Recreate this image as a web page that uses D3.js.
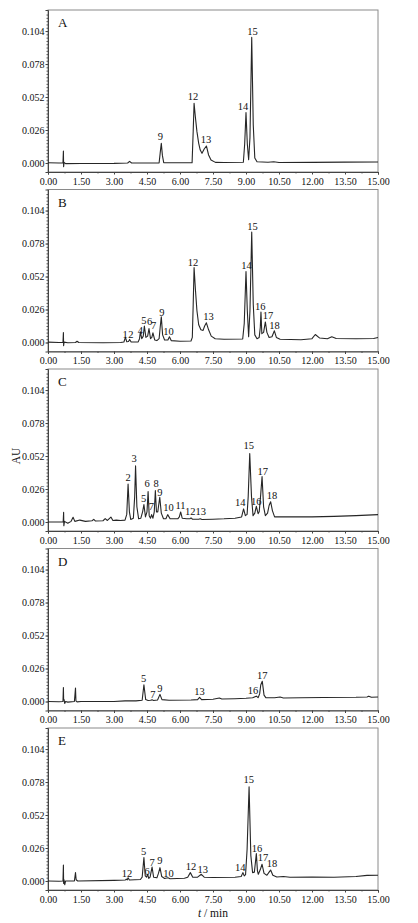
<!DOCTYPE html>
<html>
<head>
<meta charset="utf-8">
<script src="https://cdn.jsdelivr.net/npm/d3@7"></script>
<style>
  body { margin: 0; background: #fff; }
  svg { display: block; }
  text { font-family: "Liberation Serif", "DejaVu Serif", serif; fill: #111; }
</style>
</head>
<body>
<svg id="chart" width="418" height="923"></svg>
<script>
// panel names, in order top to bottom
var panels = ["A", "B", "C", "D", "E"];

var xTicks = [0, 1.5, 3, 4.5, 6, 7.5, 9, 10.5, 12, 13.5, 15];
var yTicks = [0, 0.026, 0.052, 0.078, 0.104];

// chromatogram traces: [t (min), AU]
var traceA = [[0,0.0002],[0.5,0.0000],[0.68,0.0000],[0.70,0.0095],[0.71,-0.0030],[0.73,0.0005],[0.8,-0.0005],[1.5,-0.0004],[3.0,-0.0003],[3.62,0.0000],[3.71,0.0013],[3.80,0.0000],
  [5.05,0.0000],[5.10,0.0080],[5.15,0.0155],[5.20,0.0060],[5.26,0.0003],[6.0,0.0002],[6.55,0.0003],[6.60,0.0250],[6.64,0.0470],[6.70,0.0360],[6.77,0.0247],[6.85,0.0155],[6.92,0.0102],[7.00,0.0076],[7.10,0.0110],[7.20,0.0134],[7.30,0.0063],[7.41,0.0024],[7.61,0.0005],
  [8.0,0.0004],[8.88,0.0006],[8.94,0.0150],[9.00,0.0397],[9.06,0.0150],[9.12,0.0025],[9.18,0.0200],[9.26,0.0990],[9.33,0.0300],[9.40,0.0040],[9.50,0.0010],[10.0,0.0006],[10.26,0.0010],[10.5,0.0004],[12,0.0005],[13.5,0.0007],[15,0.0008]];

var traceB = [[0,0.0003],[0.5,0.0000],[0.68,0.0000],[0.70,0.0079],[0.71,-0.0025],[0.73,0.0003],[0.9,-0.0002],[1.25,0.0000],[1.32,0.0010],[1.40,0.0000],[2.5,-0.0002],[3.3,0.0000],
  [3.45,0.0004],[3.52,0.0040],[3.58,0.0006],[3.66,0.0008],[3.71,0.0024],[3.78,0.0004],[4.1,0.0005],[4.16,0.0030],[4.20,0.0084],[4.26,0.0030],[4.33,0.0050],[4.38,0.0130],[4.45,0.0040],[4.53,0.0050],[4.59,0.0110],[4.66,0.0030],[4.72,0.0040],[4.77,0.0076],[4.85,0.0020],[4.95,0.0015],
  [5.05,0.0030],[5.10,0.0120],[5.15,0.0202],[5.21,0.0060],[5.30,0.0020],[5.45,0.0020],[5.52,0.0045],[5.60,0.0015],[6.0,0.0010],[6.50,0.0012],[6.56,0.0040],[6.60,0.0300],[6.64,0.0590],[6.70,0.0420],[6.77,0.0250],[6.85,0.0140],[6.95,0.0100],[7.05,0.0095],[7.12,0.0130],[7.20,0.0155],[7.30,0.0100],[7.42,0.0050],[7.60,0.0030],
  [8.0,0.0025],[8.85,0.0028],[8.92,0.0150],[9.00,0.0560],[9.06,0.0250],[9.12,0.0045],[9.18,0.0250],[9.26,0.0870],[9.33,0.0300],[9.40,0.0060],[9.50,0.0030],[9.60,0.0040],[9.65,0.0120],[9.68,0.0240],[9.72,0.0070],[9.80,0.0080],[9.88,0.0162],[9.95,0.0080],[10.05,0.0040],[10.18,0.0045],[10.29,0.0092],[10.38,0.0040],[10.55,0.0025],
  [11.5,0.0022],[12.0,0.0030],[12.15,0.0063],[12.35,0.0035],[12.7,0.0030],[12.9,0.0045],[13.1,0.0032],[14.0,0.0030],[14.8,0.0032],[15,0.0040]];

var traceC = [[0,0.0000],[0.5,0.0000],[0.69,0.0000],[0.71,0.0076],[0.72,-0.0030],[0.75,0.0005],[0.9,-0.0010],[1.05,0.0005],[1.14,0.0037],[1.22,0.0005],[1.45,0.0015],[1.7,0.0005],[2.0,0.0010],[2.08,0.0021],[2.15,0.0008],[2.5,0.0010],[2.6,0.0026],[2.7,0.0012],[2.86,0.0039],[2.95,0.0012],[3.1,0.0015],[3.3,0.0012],[3.5,0.0015],
  [3.58,0.0060],[3.64,0.0300],[3.70,0.0080],[3.76,0.0020],[3.88,0.0030],[3.94,0.0200],[3.98,0.0442],[4.04,0.0120],[4.12,0.0025],[4.22,0.0030],[4.30,0.0080],[4.36,0.0137],[4.43,0.0040],[4.50,0.0080],[4.55,0.0240],[4.60,0.0050],[4.66,0.0030],[4.71,0.0058],[4.77,0.0030],[4.83,0.0080],[4.88,0.0247],[4.93,0.0080],[4.99,0.0080],[5.08,0.0195],[5.15,0.0070],[5.25,0.0025],
  [5.36,0.0025],[5.44,0.0058],[5.55,0.0025],[5.9,0.0025],[5.97,0.0040],[6.03,0.0079],[6.10,0.0030],[6.3,0.0025],[6.45,0.0025],[6.50,0.0032],[6.57,0.0022],[6.85,0.0022],[6.92,0.0026],[7.0,0.0020],[7.5,0.0022],[8.0,0.0025],[8.5,0.0030],
  [8.80,0.0040],[8.89,0.0103],[8.97,0.0050],[9.05,0.0060],[9.10,0.0200],[9.17,0.0540],[9.25,0.0200],[9.32,0.0050],[9.40,0.0070],[9.47,0.0124],[9.55,0.0065],[9.60,0.0080],[9.67,0.0220],[9.73,0.0358],[9.80,0.0120],[9.88,0.0050],[9.98,0.0070],[10.05,0.0130],[10.12,0.0160],[10.20,0.0090],[10.30,0.0040],
  [10.5,0.0040],[11,0.0040],[12,0.0040],[13,0.0044],[14,0.0050],[15,0.0058]];

var traceD = [[0,0.0000],[0.5,-0.0002],[0.68,0.0000],[0.70,0.0110],[0.71,0.0020],[0.73,0.0015],[0.76,-0.0015],[0.8,0.0000],[0.9,-0.0005],[1.2,0.0000],[1.25,0.0106],[1.27,0.0005],[1.32,-0.0003],[1.5,0.0000],[3.0,0.0000],[3.5,0.0005],[4.0,0.0005],
  [4.28,0.0010],[4.36,0.0132],[4.44,0.0015],[4.55,0.0008],[4.66,0.0010],[4.73,0.0013],[4.80,0.0008],[4.98,0.0012],[5.09,0.0056],[5.18,0.0015],[5.5,0.0010],[6.5,0.0012],[6.8,0.0015],[6.89,0.0032],[6.98,0.0015],[7.5,0.0018],[7.79,0.0028],[7.9,0.0020],
  [8.5,0.0022],[9.0,0.0025],[9.3,0.0030],[9.47,0.0042],[9.55,0.0030],[9.62,0.0060],[9.67,0.0130],[9.74,0.0159],[9.82,0.0050],[9.90,0.0030],[10.3,0.0030],[10.55,0.0035],[10.7,0.0028],[11.5,0.0030],[12.5,0.0032],[14.0,0.0033],[14.5,0.0036],[14.58,0.0042],[14.7,0.0033],[15,0.0035]];

var traceE = [[0,0.0000],[0.5,-0.0002],[0.68,0.0000],[0.70,0.0126],[0.71,-0.0020],[0.73,0.0010],[0.76,-0.0030],[0.8,0.0000],[1.2,0.0000],[1.25,0.0066],[1.28,0.0010],[1.35,0.0000],[3.0,0.0005],
  [3.52,0.0008],[3.56,0.0015],[3.60,0.0008],[3.64,0.0026],[3.70,0.0008],[4.2,0.0012],[4.28,0.0030],[4.36,0.0184],[4.42,0.0040],[4.48,0.0030],[4.53,0.0053],[4.58,0.0020],[4.64,0.0030],[4.73,0.0110],[4.80,0.0030],[4.95,0.0025],[5.02,0.0060],[5.09,0.0105],[5.17,0.0035],[5.30,0.0020],[5.45,0.0026],[5.55,0.0018],
  [6.2,0.0022],[6.35,0.0030],[6.47,0.0066],[6.58,0.0030],[6.8,0.0030],[6.97,0.0053],[7.10,0.0030],[7.5,0.0028],[8.5,0.0030],[8.78,0.0035],[8.86,0.0066],[8.92,0.0040],[8.98,0.0050],[9.05,0.0250],[9.14,0.0742],[9.22,0.0200],[9.30,0.0066],[9.38,0.0070],[9.43,0.0150],[9.47,0.0216],[9.52,0.0080],[9.56,0.0053],[9.65,0.0090],[9.73,0.0132],[9.82,0.0060],[9.95,0.0045],[10.05,0.0070],[10.12,0.0087],[10.22,0.0045],
  [10.4,0.0032],[10.7,0.0035],[11,0.0030],[12,0.0032],[13,0.0030],[14,0.0036],[14.5,0.0044],[15,0.0045]];

// peak labels: [text, t, AU of text baseline]
var labelsA = [["9",5.11,0.0184],["12",6.59,0.0499],["13",7.18,0.0158],["14",8.86,0.0420],["15",9.30,0.1011]];
var labelsB = [["1",3.50,0.0039],["2",3.77,0.0039],["4",4.20,0.0068],["5",4.36,0.0144],["6",4.62,0.0136],["7",4.80,0.0107],["9",5.18,0.0212],["10",5.48,0.0060],["12",6.59,0.0603],["13",7.30,0.0178],["14",9.02,0.0576],["15",9.30,0.0890],["16",9.65,0.0257],["17",10.00,0.0183],["18",10.30,0.0107]];
var labelsC = [["2",3.64,0.0323],["3",3.92,0.0473],["5",4.35,0.0158],["6",4.50,0.0276],["7",4.70,0.0092],["8",4.91,0.0276],["9",5.08,0.0208],["10",5.48,0.0089],["11",6.02,0.0103],["1213",6.70,0.0053],["14",8.74,0.0129],["15",9.12,0.0576],["16",9.47,0.0132],["17",9.76,0.0373],["18",10.18,0.0181]];
var labelsD = [["5",4.35,0.0156],["7",4.77,0.0029],["9",5.09,0.0077],["13",6.89,0.0050],["16",9.32,0.0056],["17",9.74,0.0175]];
var labelsE = [["12",3.59,0.0034],["5",4.35,0.0205],["6",4.50,0.0050],["7",4.73,0.0121],["9",5.09,0.0134],["10",5.48,0.0034],["12",6.50,0.0087],["13",7.03,0.0061],["14",8.74,0.0082],["15",9.12,0.0771],["16",9.50,0.0232],["17",9.77,0.0160],["18",10.18,0.0108]];

var traces = [traceA, traceB, traceC, traceD, traceE];
var labels = [labelsA, labelsB, labelsC, labelsD, labelsE];

var svg = d3.select("#chart");
var margin = { left: 48, top: 10 };
var width = 330, height = 162, step = 179.5;

var x = d3.scaleLinear().domain([0, 15]).range([0, width]);
var y = d3.scaleLinear().domain([-0.0071, 0.1206]).range([height, 0]);

var line = d3.line()
  .x(function (d) { return x(d[0]); })
  .y(function (d) { return y(d[1]); });

var yMinor = d3.range(0, 0.1195, 0.0026);
var xMinor = d3.range(0, 15.01, 0.75);

panels.forEach(function (name, i) {
  var g = svg.append("g")
    .attr("transform", "translate(" + margin.left + "," + (margin.top + i * step) + ")");

  g.append("rect")
    .attr("width", width).attr("height", height)
    .attr("fill", "none").attr("stroke", "#8a8a8a").attr("stroke-width", 1);

  // minor ticks
  g.append("g").call(d3.axisLeft(y).tickValues(yMinor).tickSize(1.5).tickFormat(""))
    .call(function (a) { a.select(".domain").remove(); a.selectAll("line").attr("stroke", "#555"); });
  g.append("g").attr("transform", "translate(0," + height + ")")
    .call(d3.axisBottom(x).tickValues(xMinor).tickSize(1.5).tickFormat(""))
    .call(function (a) { a.select(".domain").remove(); a.selectAll("line").attr("stroke", "#555"); });

  g.append("g")
    .call(d3.axisLeft(y).tickValues(yTicks).tickSize(2.5).tickPadding(1).tickFormat(d3.format(".3f")))
    .call(function (a) {
      a.select(".domain").attr("stroke", "#444");
      a.selectAll("line").attr("stroke", "#444");
      a.selectAll("text").attr("font-size", 10).attr("font-family", "Liberation Serif").attr("fill", "#111");
    });

  g.append("g").attr("transform", "translate(0," + height + ")")
    .call(d3.axisBottom(x).tickValues(xTicks).tickSize(2.5).tickPadding(3).tickFormat(d3.format(".2f")))
    .call(function (a) {
      a.select(".domain").attr("stroke", "#444");
      a.selectAll("line").attr("stroke", "#444");
      a.selectAll("text").attr("font-size", 10).attr("font-family", "Liberation Serif").attr("fill", "#111");
    });

  g.append("path")
    .datum(traces[i])
    .attr("d", line)
    .attr("fill", "none")
    .attr("stroke", "#262626")
    .attr("stroke-width", 1.1)
    .attr("stroke-linejoin", "round");

  g.selectAll(".peak")
    .data(labels[i])
    .enter()
    .append("text")
    .attr("class", "peak")
    .attr("x", function (d) { return x(d[1]); })
    .attr("y", function (d) { return y(d[2]); })
    .attr("text-anchor", "middle")
    .attr("font-size", 10.5)
    .text(function (d) { return d[0]; });

  g.append("text")
    .attr("x", 10).attr("y", 17)
    .attr("font-size", 13)
    .text(name);
});

// axis titles
svg.append("text")
  .attr("transform", "translate(20," + (margin.top + 2 * step + y(0.052)) + ") rotate(-90)")
  .attr("text-anchor", "middle")
  .attr("font-size", 11.5)
  .text("AU");

var xt = svg.append("text")
  .attr("x", margin.left + width / 2)
  .attr("y", 917)
  .attr("text-anchor", "middle")
  .attr("font-size", 11.5);
xt.append("tspan").attr("font-style", "italic").text("t");
xt.append("tspan").text(" / min");
</script>
</body>
</html>
